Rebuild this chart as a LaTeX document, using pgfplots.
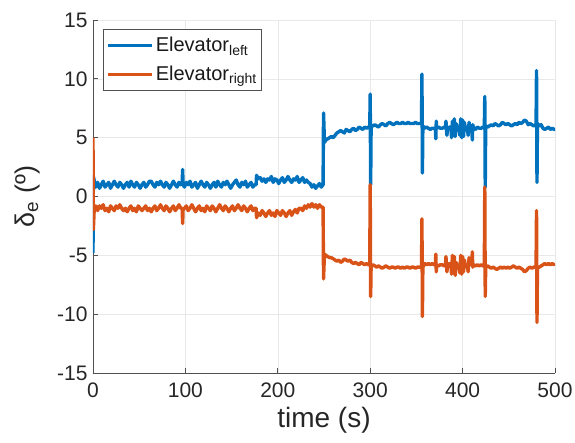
\documentclass[border=0pt]{standalone}
\usepackage{pgfplots}
\pgfplotsset{compat=1.18}
\usepackage{fontspec}
\setmainfont{Liberation Sans}
\definecolor{mblue}{RGB}{0,114,189}
\definecolor{morange}{RGB}{217,83,25}
\definecolor{axgray}{RGB}{80,80,80}
\begin{document}
\begin{tikzpicture}[x=1pt,y=1pt]
\path[use as bounding box] (-93,-69) rectangle (482,373);
\begin{axis}[
  at={(0,0)}, anchor=south west,
  scale only axis, width=462pt, height=353pt,
  xmin=0, xmax=500, ymin=-15, ymax=15,
  xtick={0,100,...,500}, ytick={-15,-10,...,15},
  axis x line*=bottom, axis y line*=left,
  axis line style={axgray, line width=0.8pt},
  tick style={axgray, line width=0.8pt},
  tick align=inside, major tick length=5pt,
  grid=major, major grid style={gray!18, line width=0.6pt},
  /pgf/number format/assume math mode=true,
  ticklabel style={font=\fontsize{21}{24}\selectfont, text=black!85},
  xticklabel style={yshift=-6pt},
  yticklabel style={xshift=-2pt},
  xlabel={time (s)},
  xlabel style={at={(axis description cs:0.5,0)}, anchor=center, yshift=-47pt, font=\fontsize{28}{32}\selectfont, text=black!85},
  ylabel={δ\textsubscript{e} (º)},
  ylabel style={at={(axis description cs:-0.142,0.5)}, anchor=center, font=\fontsize{27}{30}\selectfont, text=black!85},
  legend style={at={(axis description cs:0.0216,0.9745)}, anchor=north west,
    draw=axgray, line width=0.8pt, fill=white,
    font=\fontsize{20}{22}\selectfont, text=black!90,
    row sep=9pt, inner xsep=3pt, inner ysep=6pt},
  legend cell align=left,
  legend image code/.code={\draw[#1] (0pt,0pt) -- (44pt,0pt);},
]
\addplot[mblue, line width=3.4pt, line join=round] coordinates {
(0,-4.8) (0.4,1.7) (1.5,1.3) (3,0.8) (5,1.2) (7,0.7) (9,1.0) (11,1.3) (13,0.8) (15,1.0)
(17,1.2) (19,0.7) (21,1.0) (23,1.3) (25,1.0) (27,0.8) (29,1.2) (31,1.0) (33,0.7) (35,1.0)
(37,1.2) (39,0.8) (41,1.3) (43,1.0) (45,0.8) (47,1.2) (49,1.0) (51,0.7) (53,1.0) (55,1.2)
(57,0.8) (59,1.0) (61,1.3) (63,1.3) (65,1.0) (67,0.8) (69,1.2) (71,1.0) (73,1.3) (75,1.0)
(77,0.8) (79,1.2) (81,1.0) (83,0.7) (85,1.0) (87,1.3) (89,1.0) (91,0.8) (93,1.2) (95,1.0)
(96.5,1.1) (97,2.3) (97.5,1.0) (99,0.8) (101,1.2) (103,1.0) (105,1.3) (107,0.8) (109,1.0)
(111,1.2) (113,0.7) (115,1.0) (117,1.3) (119,1.0) (121,0.8) (123,1.2) (125,1.0) (127,0.7)
(129,1.0) (131,1.2) (133,0.8) (135,1.3) (137,1.0) (139,0.8) (141,1.2) (143,1.0) (145,1.3)
(147,1.0) (149,0.7) (151,1.0) (153,1.2) (155,1.4) (157,1.0) (159,0.8) (161,1.2) (163,1.0)
(165,1.3) (167,0.8) (169,1.0) (171,1.2) (173,0.8) (175,1.0) (176.5,1.0) (177,1.8) (179,1.5)
(181,1.6) (183,1.3) (185,1.5) (187,1.2) (189,1.5) (191,1.4) (193,1.7) (195,1.2) (197,1.5)
(199,1.4) (201,1.1) (203,1.4) (205,1.6) (207,1.2) (209,1.4) (211,1.7) (213,1.4) (215,1.2)
(217,1.5) (219,1.4) (221,1.7) (223,1.2) (225,1.4) (227,1.6) (229,1.2) (231,1.4) (233,1.2)
(235,1.1) (237,0.8) (239,1.0) (241,0.7) (243,0.9) (245,1.1) (247,0.8) (249,1.0)
(249.5,7.1) (250.5,4.6) (252,4.8) (254,4.9) (256,5.0) (258,5.1) (260,5.0) (262,5.2)
(264,5.4) (266,5.5) (268,5.6) (270,5.5) (272,5.4) (274,5.7) (276,5.6) (278,5.5) (280,5.7)
(282,5.8) (284,5.6) (286,5.7) (288,5.9) (290,5.8) (292,5.7) (294,5.9) (296,5.8) (298,5.9)
(299.5,5.9) (300,8.7) (300.5,1.0) (301,6.0) (303,6.0) (305,6.1) (307,6.0) (309,5.9)
(311,6.1) (313,6.2) (315,6.1) (317,6.0) (319,6.2) (321,6.3) (323,6.2) (325,6.1) (327,6.2)
(329,6.3) (331,6.2) (333,6.2) (335,6.3) (337,6.2) (339,6.2) (341,6.3) (343,6.2) (345,6.2)
(347,6.2) (349,6.3) (351,6.2) (353,6.2) (355.5,6.2) (356,10.4) (356.5,2.0) (357,6.0)
(359,5.8) (361,5.9) (363,5.8) (365,5.7) (367,5.8) (369,5.8) (370.5,5.8) (371,4.9)
(371.5,6.4) (372,5.8) (374,5.9) (376,5.8) (378,5.8) (380,5.9) (381.5,5.8) (382,6.4)
(383,5.2) (384,5.8) (386,5.9) (387.5,5.9) (388,5.0) (389,6.4) (390,5.2) (391,6.6) (392,5.1)
(393,6.2) (394,5.8) (396,5.9) (397,5.2) (398,6.6) (399,5.0) (400,6.5) (401,5.1) (402,6.3)
(403,5.7) (405,5.9) (406,5.2) (407,6.3) (408,5.8) (410,5.9) (410.5,4.8) (411,6.1)
(412,5.8) (414,5.7) (416,5.9) (418,5.8) (420,5.8) (422,5.9) (423.5,5.9) (424,8.5)
(424.5,0.8) (425,6.0)
(427,5.9) (429,6.0) (431,6.1) (433,6.0) (435,6.2) (437,6.1) (439,6.0) (441,6.1) (443,6.3)
(445,6.2) (447,6.1) (449,6.2) (451,6.1) (453,6.0) (455,6.1) (457,6.2) (459,6.1) (461,6.3)
(463,6.2) (465,6.3) (467,6.5) (469,6.4) (471,6.1) (473,6.2) (475,6.1) (477,6.0)
(479.5,6.1) (480,10.7) (480.5,1.2) (481,6.2) (483,6.0) (485,6.1) (487,5.8) (489,5.7)
(491,5.8) (493,5.9) (495,5.7) (497,5.8) (499,5.7) (500,5.7)
};
\addlegendentry{Elevator\textsubscript{left}}
\addplot[morange, line width=3.4pt, line join=round] coordinates {
(0,5.0) (0.4,-2.8) (1.2,-1.3) (3,-0.8) (5,-1.2) (7,-0.8) (9,-1.0) (11,-0.7) (13,-1.2)
(15,-1.0) (17,-1.3) (19,-0.8) (21,-1.0) (23,-1.2) (25,-0.8) (27,-1.0) (29,-0.7) (31,-1.0)
(33,-1.2) (35,-1.0) (37,-1.3) (39,-1.0) (41,-0.8) (43,-1.2) (45,-1.0) (47,-1.3) (49,-0.8)
(51,-1.0) (53,-1.2) (55,-1.0) (57,-0.8) (59,-1.2) (61,-1.0) (63,-1.3) (65,-1.0) (67,-0.8)
(69,-1.2) (71,-1.0) (73,-0.7) (75,-1.0) (77,-1.2) (79,-0.8) (81,-1.0) (83,-1.3) (85,-1.0)
(87,-0.8) (89,-1.2) (91,-1.0) (93,-0.7) (95,-1.0) (96.5,-1.0) (97,-2.3) (97.5,-1.1)
(99,-1.0) (101,-0.8) (103,-1.2) (105,-1.0) (107,-0.7) (109,-1.0) (111,-1.3) (113,-1.0)
(115,-0.8) (117,-1.2) (119,-1.0) (121,-1.3) (123,-0.8) (125,-1.0) (127,-1.2) (129,-0.8)
(131,-1.0) (133,-1.3) (135,-1.0) (137,-0.7) (139,-1.0) (141,-1.2) (143,-0.8) (145,-1.0)
(147,-1.3) (149,-1.0) (151,-0.8) (153,-1.2) (155,-1.0) (157,-0.7) (159,-1.0) (161,-1.2)
(163,-0.8) (165,-1.0) (167,-1.3) (169,-1.0) (171,-0.8) (173,-1.2) (175,-1.0) (176.5,-1.0)
(177,-1.8) (179,-1.4) (181,-1.6) (183,-1.2) (185,-1.4) (187,-1.7) (189,-1.4) (191,-1.2)
(193,-1.6) (195,-1.4) (197,-1.7) (199,-1.2) (201,-1.4) (203,-1.6) (205,-1.2) (207,-1.4)
(209,-1.7) (211,-1.4) (213,-1.2) (215,-1.6) (217,-1.3) (219,-1.1) (221,-1.4) (223,-1.0)
(225,-1.0) (227,-1.2) (229,-0.8) (231,-1.0) (233,-0.7) (235,-0.9) (237,-0.6) (239,-0.9)
(241,-0.7) (243,-1.0) (245,-0.7) (247,-0.9) (249,-0.9) (249.5,-7.0) (250.5,-4.9)
(252,-5.0) (254,-5.1) (256,-5.2) (258,-5.2) (260,-5.3) (262,-5.4) (264,-5.5) (266,-5.4)
(268,-5.6) (270,-5.5) (272,-5.3) (274,-5.4) (276,-5.5) (278,-5.4) (280,-5.6) (282,-5.7)
(284,-5.6) (286,-5.7) (288,-5.8) (290,-5.6) (292,-5.7) (294,-5.8) (296,-5.7) (298,-5.8)
(299.5,-5.8) (300,1.0) (300.5,-8.5) (301,-5.9) (303,-5.8) (305,-5.9) (307,-6.0) (309,-5.9)
(311,-6.0) (313,-6.1) (315,-6.0) (317,-5.9) (319,-6.0) (321,-6.1) (323,-6.0) (325,-6.0)
(327,-6.1) (329,-6.0) (331,-6.0) (333,-6.1) (335,-6.0) (337,-6.1) (339,-6.0) (341,-6.0)
(343,-6.1) (345,-6.0) (347,-6.0) (349,-6.1) (351,-6.0) (353,-6.0) (355.5,-6.0)
(356,-1.9) (356.5,-10.2) (357,-6.0) (359,-5.7) (361,-5.8) (363,-5.7) (365,-5.8)
(367,-5.7) (369,-5.8) (370.5,-5.8) (371,-4.9) (371.5,-6.4) (372,-5.8) (374,-5.9)
(376,-5.8) (378,-5.8) (380,-5.9) (381.5,-5.8) (382,-5.1) (383,-6.4) (384,-5.8) (386,-5.7)
(387.5,-5.8) (388,-6.6) (389,-5.0) (390,-6.5) (391,-5.1) (392,-6.7) (393,-5.6) (394,-5.9)
(396,-5.8) (397,-6.5) (398,-5.0) (399,-6.6) (400,-5.1) (401,-6.4) (402,-5.4) (403,-5.9)
(405,-5.8) (406,-6.4) (407,-5.2) (408,-5.8) (410,-5.8) (410.5,-4.7) (411,-6.0)
(412,-5.8) (414,-5.9) (416,-5.8) (418,-5.9) (420,-5.8) (422,-5.9) (423.5,-5.9) (424,0.8)
(424.5,-8.5) (425,-6.0) (427,-5.9) (429,-6.0) (431,-6.1) (433,-6.0) (435,-6.1) (437,-6.2)
(439,-6.1) (441,-6.0) (443,-6.1) (445,-6.0) (447,-6.1) (449,-6.0) (451,-6.1) (453,-6.0)
(455,-5.9) (457,-6.0) (459,-6.1) (461,-6.0) (463,-6.1) (465,-6.2) (467,-6.4) (469,-6.3)
(471,-6.1) (473,-6.0) (475,-6.1) (477,-6.0) (479.5,-6.0) (480,-1.2) (480.5,-10.7)
(481,-6.1) (483,-6.0) (485,-5.9) (487,-5.8) (489,-5.7) (491,-5.8) (493,-5.7) (495,-5.8)
(497,-5.7) (499,-5.8) (500,-5.7)
};
\addlegendentry{Elevator\textsubscript{right}}
\end{axis}
\end{tikzpicture}
\end{document}
